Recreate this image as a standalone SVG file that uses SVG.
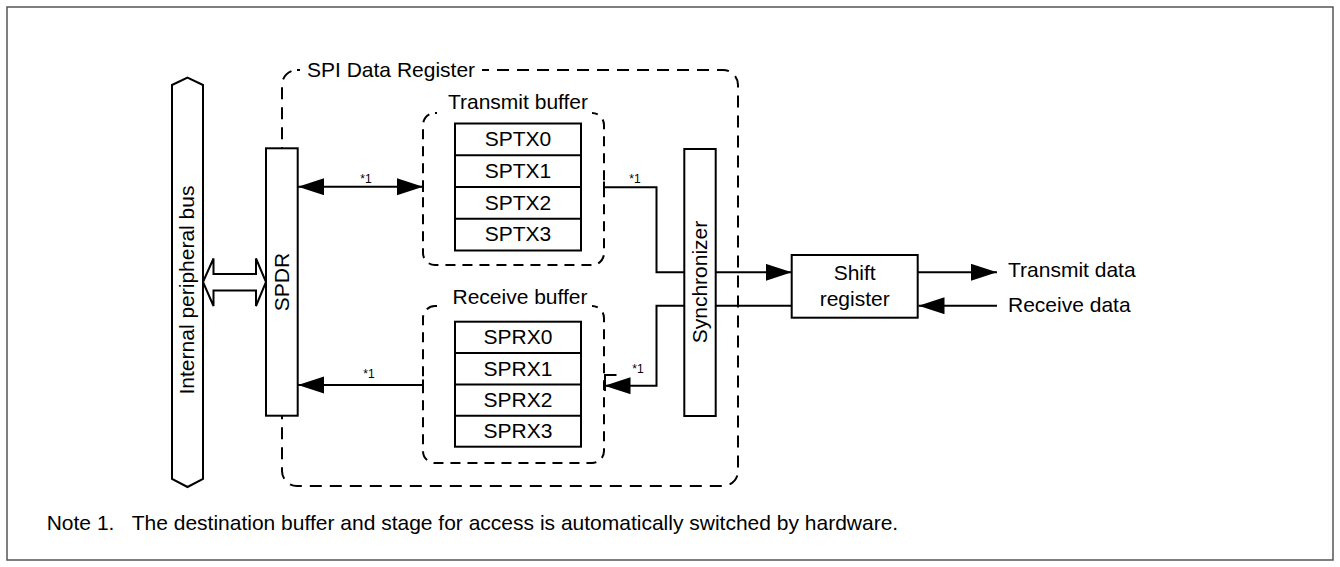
<svg xmlns="http://www.w3.org/2000/svg" width="1340" height="567" viewBox="0 0 1340 567">
<style>
  text { font-family: "Liberation Sans", Arial, sans-serif; font-size: 21px; fill: #000; }
  .small { font-size: 12px; }
  .box { fill: #fff; stroke: #000; stroke-width: 2; }
  .dash { fill: none; stroke: #000; stroke-width: 2; stroke-dasharray: 12 8; }
  .dash2 { fill: none; stroke: #000; stroke-width: 2; stroke-dasharray: 10 7; }
  .wire { fill: none; stroke: #000; stroke-width: 2; }
  .mask { fill: #fff; stroke: none; }
</style>
<defs>
  <marker id="ah" markerUnits="userSpaceOnUse" markerWidth="27" markerHeight="18" refX="26" refY="8.5" orient="auto-start-reverse">
    <path d="M0,0 L26,8.5 L0,17 z" fill="#000"/>
  </marker>
</defs>
<rect x="7" y="7" width="1326" height="553" fill="#fff" stroke="#555" stroke-width="1.5"/>

<g id="spi-data-register">
  <rect class="dash" x="282" y="70" width="456" height="416" rx="15"/>
  <rect class="mask" x="300" y="58" width="182" height="24"/>
  <text x="307" y="77">SPI Data Register</text>
</g>

<g id="internal-bus">
  <polygon class="box" points="187.5,77.7 203,85 203,479 187.5,487 172,479 172,85"/>
  <text transform="translate(193.5,290) rotate(-90)" text-anchor="middle">Internal peripheral bus</text>
</g>

<g id="bus-arrow">
  <polygon class="box" points="203,282 213.5,258.5 213.5,274 256,274 256,258.5 266,282 256,306 256,290.5 213.5,290.5 213.5,306"/>
</g>

<g id="transmit-buffer">
  <rect class="dash2" x="423" y="113" width="181" height="152" rx="12"/>
  <rect class="mask" x="437" y="100" width="155" height="20"/>
  <text x="518" y="108.5" text-anchor="middle">Transmit buffer</text>
  <rect class="box" x="455" y="123.5" width="126" height="127"/>
  <line class="wire" x1="455" y1="155.25" x2="581" y2="155.25"/>
  <line class="wire" x1="455" y1="187" x2="581" y2="187"/>
  <line class="wire" x1="455" y1="218.75" x2="581" y2="218.75"/>
  <text x="518" y="146" text-anchor="middle">SPTX0</text>
  <text x="518" y="177.75" text-anchor="middle">SPTX1</text>
  <text x="518" y="209.5" text-anchor="middle">SPTX2</text>
  <text x="518" y="241.25" text-anchor="middle">SPTX3</text>
</g>

<g id="receive-buffer">
  <rect class="dash2" x="423" y="306" width="181" height="157" rx="12"/>
  <rect class="mask" x="437" y="285" width="155" height="28"/>
  <text x="520" y="304" text-anchor="middle">Receive buffer</text>
  <rect class="box" x="455" y="321.7" width="126" height="125"/>
  <line class="wire" x1="455" y1="353" x2="581" y2="353"/>
  <line class="wire" x1="455" y1="384.5" x2="581" y2="384.5"/>
  <line class="wire" x1="455" y1="415.7" x2="581" y2="415.7"/>
  <text x="518" y="344" text-anchor="middle">SPRX0</text>
  <text x="518" y="375.5" text-anchor="middle">SPRX1</text>
  <text x="518" y="407" text-anchor="middle">SPRX2</text>
  <text x="518" y="438.3" text-anchor="middle">SPRX3</text>
</g>

<g id="connectors">
  <line class="wire" x1="298" y1="186.7" x2="423" y2="186.7" marker-start="url(#ah)" marker-end="url(#ah)"/>
  <line class="wire" x1="423" y1="181" x2="423" y2="192"/>
  <text class="small" x="366" y="183" text-anchor="middle">*1</text>

  <path class="wire" d="M604,187.3 H656.5 V272.3 H684"/>
  <line class="wire" x1="604" y1="181.5" x2="604" y2="193"/>
  <text class="small" x="635" y="183" text-anchor="middle">*1</text>

  <line class="wire" x1="715.7" y1="272.3" x2="791.7" y2="272.3" marker-end="url(#ah)"/>
  <line class="wire" x1="791.7" y1="305.7" x2="715.7" y2="305.7"/>
  <path class="wire" d="M684,305.7 H656.5 V385.7 H604.5" marker-end="url(#ah)"/>
  <path class="wire" d="M616.5,375 H605 V391"/>
  <text class="small" x="638" y="373.3" text-anchor="middle">*1</text>

  <line class="wire" x1="423" y1="385" x2="298" y2="385" marker-end="url(#ah)"/>
  <line class="wire" x1="423" y1="379.5" x2="423" y2="390.5"/>
  <text class="small" x="369" y="378.3" text-anchor="middle">*1</text>

  <line class="wire" x1="917.7" y1="272.3" x2="997" y2="272.3" marker-end="url(#ah)"/>
  <line class="wire" x1="997" y1="305.7" x2="918.5" y2="305.7" marker-end="url(#ah)"/>
</g>

<g id="spdr">
  <rect class="box" x="266" y="148.3" width="31.7" height="267.4"/>
  <text transform="translate(288.5,282) rotate(-90)" text-anchor="middle">SPDR</text>
</g>

<g id="synchronizer">
  <rect class="box" x="684.3" y="149" width="31.4" height="267"/>
  <text transform="translate(707,282) rotate(-90)" text-anchor="middle">Synchronizer</text>
</g>

<g id="shift-register">
  <rect class="box" x="791.7" y="255" width="126" height="62.7"/>
  <text x="854.7" y="280" text-anchor="middle">Shift</text>
  <text x="854.7" y="305.7" text-anchor="middle">register</text>
</g>

<g id="io-labels">
  <text x="1008" y="277.3">Transmit data</text>
  <text x="1008" y="311.7">Receive data</text>
</g>

<g id="note">
  <text x="46.7" y="530">Note 1.</text>
  <text x="131.7" y="530">The destination buffer and stage for access is automatically switched by hardware.</text>
</g>
</svg>
